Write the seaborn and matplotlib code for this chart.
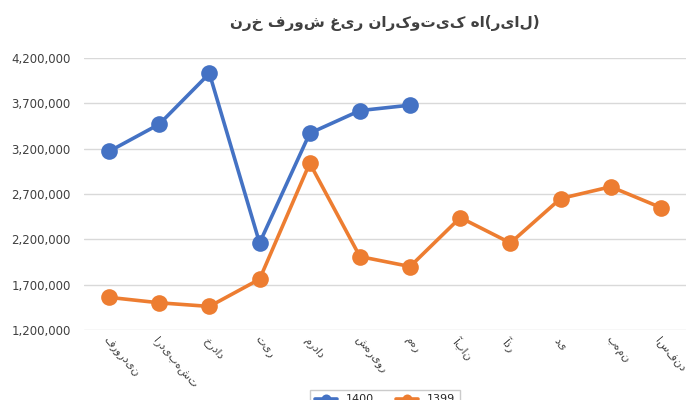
import matplotlib
matplotlib.use('Agg')
import matplotlib.pyplot as plt
import seaborn as sns
import pandas as pd
from matplotlib.ticker import FuncFormatter

months = ['فروردین', 'اردیبهشت', 'خرداد', 'تیر', 'مرداد', 'شهریور', 'مهر',
          'آبان', 'آذر', 'دی', 'بهمن', 'اسفند']
y1400 = [3170000, 3470000, 4030000, 2160000, 3370000, 3620000, 3680000]
y1399 = [1560000, 1500000, 1460000, 1760000, 3040000, 2010000, 1900000,
         2440000, 2160000, 2650000, 2780000, 2550000]
title = 'نرخ فروش غیر نارکوتیک ها(ریال)'

df = pd.concat([
    pd.DataFrame({'x': range(len(y1400)), 'v': y1400, 's': '1400'}),
    pd.DataFrame({'x': range(len(y1399)), 'v': y1399, 's': '1399'}),
])

sns.set_theme(style='white')
plt.rcParams['font.family'] = ['DejaVu Sans']
fig, ax = plt.subplots(figsize=(7, 4), dpi=100)
pal = {'1400': '#4472C4', '1399': '#ED7D31'}
sns.lineplot(data=df, x='x', y='v', hue='s', palette=pal, marker='o',
             markersize=12, linewidth=2.6, markeredgewidth=0, ax=ax)
ax.set_ylim(1200000, 4200000)
ax.set_yticks(range(1200000, 4200001, 500000))
ax.yaxis.set_major_formatter(FuncFormatter(lambda v, p: f'{int(v):,}'))
ax.grid(axis='y', color='#d9d9d9', linewidth=1)
ax.set_xlim(-0.5, 11.5)
ax.set_xticks(range(12))
ax.set_xticklabels(months, rotation=-50, ha='left', rotation_mode='anchor', fontsize=8)
ax.tick_params(axis='y', labelsize=8.5, colors='#404040')
ax.tick_params(axis='x', colors='#404040', length=0)
for sp in ax.spines.values():
    sp.set_visible(False)
ax.set_xlabel(''); ax.set_ylabel('')
ax.set_title(title, fontsize=11, fontweight='bold', color='#404040', pad=22)
ax.legend(loc='upper center', bbox_to_anchor=(0.5, -0.2), ncol=2, fontsize=8,
          frameon=True, edgecolor='#bfbfbf', fancybox=False, markerscale=0.6)
fig.subplots_adjust(left=0.12, right=0.98, top=0.855, bottom=0.175)
fig.savefig('out.png', dpi=100)
